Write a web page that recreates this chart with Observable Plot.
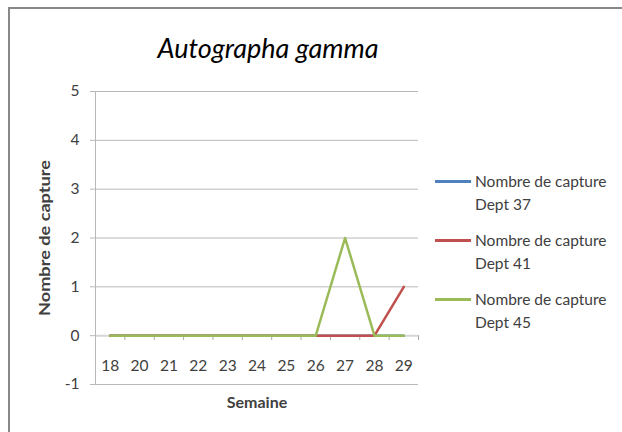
<!DOCTYPE html>
<html>
<head>
<meta charset="utf-8">
<script src="https://cdn.jsdelivr.net/npm/d3@7"></script>
<script src="https://cdn.jsdelivr.net/npm/@observablehq/plot@0.6"></script>
<style>
  html, body { margin: 0; background: #fff; overflow: hidden; }
  #wrap { position: relative; width: 622px; height: 432px; overflow: hidden; font-family: Lato, "Open Sans", sans-serif; }
  #border { position: absolute; left: 8px; top: 7px; width: 640px; height: 460px; border-left: 2px solid #888; border-top: 2px solid #888; }
  #legend { position: absolute; left: 435px; top: 170px; color: #404040; font-size: 15.5px; line-height: 23px; }
  .item { display: flex; align-items: flex-start; margin-bottom: 13px; }
  .sw { width: 36px; height: 3px; margin-top: 10px; margin-right: 4px; flex: none; }
</style>
</head>
<body>
<div id="wrap">
  <div id="border"></div>
  <div id="chart"></div>
  <div id="legend"></div>
</div>
<script>
const categories = ["18","20","21","22","23","24","25","26","27","28","29"];
const dept37 = [0,0,0,0,0,0,0,0,0,0,0];
const dept41 = [0,0,0,0,0,0,0,0,0,0,1];
const dept45 = [0,0,0,0,0,0,0,0,2,0,0];
const seriesNames = ["Nombre de capture Dept 37","Nombre de capture Dept 41","Nombre de capture Dept 45"];
const seriesColors = ["#4f81bd","#c0504d","#9bbb59"];
const yTicks = [-1,0,1,2,3,4,5];
const title = "Autographa gamma";
const xLabel = "Semaine";
const yLabel = "Nombre de capture";

const seriesValues = [dept37, dept41, dept45];
const rows = [];
seriesValues.forEach((vals, k) => vals.forEach((v, i) => rows.push({i, v, s: seriesNames[k]})));
const idx = categories.map((c, i) => i);
const boundaries = categories.map((c, i) => i + 0.5);

const chart = Plot.plot({
  width: 622, height: 432,
  marginLeft: 95, marginRight: 204, marginTop: 91, marginBottom: 48,
  x: {domain: [-0.5, categories.length - 0.5], axis: null},
  y: {domain: [-1, 5], axis: null},
  color: {domain: seriesNames, range: seriesColors},
  style: {fontFamily: "Lato, 'Open Sans', sans-serif", background: "transparent", overflow: "visible"},
  marks: [
    Plot.ruleY(yTicks.filter(d => d !== 0), {stroke: "#b8b8b8", strokeWidth: 1}),
    Plot.ruleY([0], {stroke: "#d6d6d6", strokeWidth: 2}),
    Plot.ruleX([-0.5], {stroke: "#b8b8b8", strokeWidth: 1}),
    Plot.ruleX(boundaries, {y1: 0, y2: -0.1, stroke: "#a8a8a8"}),
    Plot.axisY({ticks: yTicks, tickFormat: d => String(d), tickSize: 5, tickPadding: 11, stroke: "#b8b8b8", color: "#404040", fontSize: 15.5, label: null}),
    Plot.axisX({ticks: idx, tickFormat: i => categories[i], tickSize: 0, tickPadding: 0, dy: -25, color: "#404040", fontSize: 15.5, label: null}),
    Plot.line(rows, {x: "i", y: "v", z: "s", stroke: "s", strokeWidth: 2.5}),
    Plot.text([yLabel], {frameAnchor: "left", rotate: -90, dx: -50, fontSize: 15, fontWeight: "bold", fill: "#404040", className: "ylab"}),
    Plot.text([xLabel], {frameAnchor: "bottom", dy: 23, fontSize: 16, fontWeight: "bold", fill: "#404040"}),
    Plot.text([title], {frameAnchor: "top", dx: 11, dy: -53, fontSize: 27, fontStyle: "italic", fill: "#000"})
  ]
});
document.getElementById("chart").appendChild(chart);
d3.select(chart).selectAll("g.ylab text")
  .attr("text-anchor", "start")
  .attr("x", -78)
  .attr("textLength", 156)
  .attr("lengthAdjust", "spacingAndGlyphs");

const legend = document.getElementById("legend");
seriesNames.forEach((n, k) => {
  const item = document.createElement("div");
  item.className = "item";
  const sw = document.createElement("div");
  sw.className = "sw";
  sw.style.background = seriesColors[k];
  const t = document.createElement("div");
  const parts = n.split(" Dept ");
  t.innerHTML = parts[0] + "<br>Dept " + parts[1];
  item.appendChild(sw); item.appendChild(t);
  legend.appendChild(item);
});
</script>
</body>
</html>
